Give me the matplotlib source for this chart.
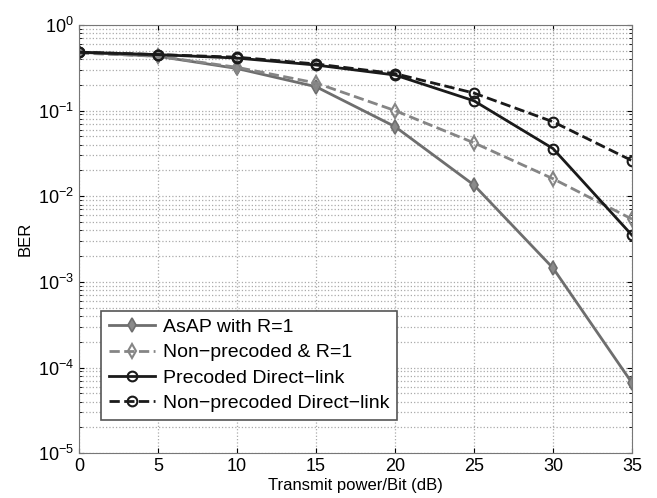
import matplotlib.pyplot as plt
from matplotlib.ticker import LogLocator, NullFormatter

snr = [0, 5, 10, 15, 20, 25, 30, 35]
asap_r1 = [0.48, 0.43, 0.31, 0.19, 0.065, 0.0135, 0.00145, 6.6e-5]
nonprec_r1 = [0.47, 0.43, 0.32, 0.21, 0.10, 0.042, 0.016, 0.0054]
prec_direct = [0.48, 0.45, 0.41, 0.34, 0.26, 0.13, 0.036, 0.0035]
nonprec_direct = [0.48, 0.45, 0.42, 0.35, 0.27, 0.16, 0.074, 0.026]

plt.rcParams['font.family'] = ['Liberation Sans', 'DejaVu Sans']

fig = plt.figure(figsize=(6.57, 4.98), dpi=100)
ax = fig.add_axes([0.12, 0.09, 0.842, 0.86])

ax.semilogy(snr, asap_r1, '-', color='#6e6e6e', lw=2, marker='d', ms=7,
            mfc='#8a8a8a', mec='#6e6e6e', mew=1.2, label='AsAP with R=1')
ax.semilogy(snr, nonprec_r1, '--', color='#858585', lw=2, marker='d', ms=7,
            mfc='none', mec='#858585', mew=1.5, label='Non\u2212precoded & R=1')
ax.semilogy(snr, prec_direct, '-', color='#1a1a1a', lw=2, marker='o', ms=7,
            mfc='none', mec='#1a1a1a', mew=1.5, label='Precoded Direct\u2212link')
ax.semilogy(snr, nonprec_direct, '--', color='#1a1a1a', lw=2, marker='o', ms=7,
            mfc='none', mec='#1a1a1a', mew=1.5, label='Non\u2212precoded Direct\u2212link')

ax.set_xlim(0, 35)
ax.set_ylim(1e-5, 1)
ax.set_xticks(snr)
ax.yaxis.set_major_locator(LogLocator(base=10, numticks=10))
ax.yaxis.set_minor_locator(LogLocator(base=10, subs=range(2, 10), numticks=20))
ax.yaxis.set_minor_formatter(NullFormatter())

ax.grid(True, which='major', linestyle=':', color='#aaaaaa', lw=0.9)
ax.grid(True, which='minor', axis='y', linestyle=':', color='#aaaaaa', lw=0.9)
ax.tick_params(direction='in', which='both', top=True, right=True, labelsize=13)
for s in ax.spines.values():
    s.set_color('#777777')

ax.set_xlabel('Transmit power/Bit (dB)', fontsize=12, labelpad=2)
ax.set_ylabel('BER', fontsize=12)

leg = ax.legend(loc='lower left', bbox_to_anchor=(0.022, 0.055), fontsize=14,
                fancybox=False, framealpha=1, edgecolor='#555555',
                handlelength=2.4, borderpad=0.4, labelspacing=0.4,
                handletextpad=0.4)
leg.get_frame().set_linewidth(1.2)

fig.savefig('out.png', dpi=100)
